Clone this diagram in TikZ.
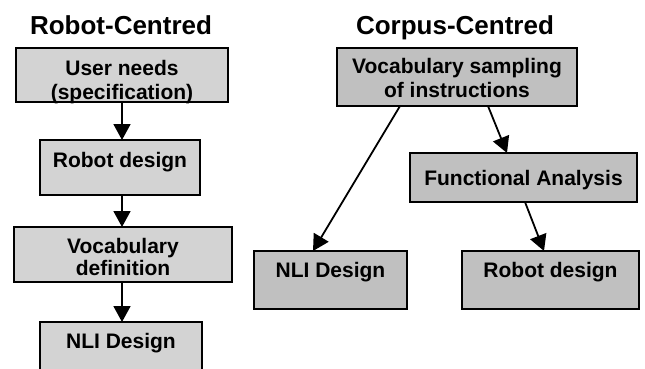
\documentclass[tikz,border=0pt]{standalone}
\usepackage{fontspec}
\setmainfont{Liberation Sans}
\usetikzlibrary{arrows.meta,calc}
\definecolor{lgrey}{HTML}{D3D3D3}
\definecolor{dgrey}{HTML}{C0C0C0}
\tikzset{
  boxL/.style={draw=black,line width=1.8pt,fill=lgrey,rectangle,anchor=north west,inner sep=0pt,outer sep=0pt},
  boxR/.style={draw=black,line width=1.8pt,fill=dgrey,rectangle,anchor=north west,inner sep=0pt,outer sep=0pt},
  lbl/.style={anchor=base,inner sep=0pt,font=\fontsize{21}{23}\selectfont\bfseries},
  ttl/.style={anchor=base,inner sep=0pt,font=\fontsize{26}{28}\selectfont\bfseries},
  arr/.style={line width=1.8pt,-{Triangle[width=17pt,length=16pt]}}
}
\begin{document}
\begin{tikzpicture}[x=1pt,y=-1pt]
\useasboundingbox (0,0) rectangle (645,369);
% titles
\node[ttl] (t1) at (121,35) {Robot-Centred};
\node[ttl] (t2) at (455,35) {Corpus-Centred};
% left column boxes
\node[boxL,minimum width=212pt,minimum height=54pt] (u1) at (16,48) {};
\node[boxL,minimum width=160pt,minimum height=55pt] (r1) at (40,140) {};
\node[boxL,minimum width=218pt,minimum height=55pt] (v1) at (14,227) {};
\node[boxL,minimum width=162pt,minimum height=62pt] (n1) at (40,322) {};
% right column boxes
\node[boxR,minimum width=240pt,minimum height=58pt] (vs) at (337,48) {};
\node[boxR,minimum width=227pt,minimum height=49pt] (fa) at (410,153) {};
\node[boxR,minimum width=153pt,minimum height=58pt] (nl) at (254,251) {};
\node[boxR,minimum width=177pt,minimum height=58pt] (rd) at (462,251) {};
% texts
\begin{scope}
\clip ([shift={(1pt,-1pt)}]u1.south west) rectangle ([shift={(-1pt,1pt)}]u1.north east);
\node[lbl] (u1a) at (122,75) {User needs};
\node[lbl] (u1b) at (122,99.5) {(specification)};
\end{scope}
\node[lbl] (r1a) at (120,167) {Robot design};
\node[lbl] (v1a) at (123,253) {Vocabulary};
\node[lbl] (v1b) at (123,275) {definition};
\node[lbl] (n1a) at (121,348) {NLI Design};
\node[lbl] (vsa) at (457,74) {Vocabulary sampling};
\node[lbl] (vsb) at (457,97) {of instructions};
\node[lbl] (faa) at (523.5,185) {Functional Analysis};
\node[lbl] (nla) at (330.5,277) {NLI Design};
\node[lbl] (rda) at (550.5,277) {Robot design};
% arrows left
\draw[arr] (u1.south -| 122,0) -- (r1.north -| 122,0);
\draw[arr] (r1.south -| 122,0) -- (v1.north -| 122,0);
\draw[arr] (v1.south -| 122,0) -- (n1.north -| 122,0);
% arrows right
\draw[arr] ([xshift=63pt]vs.south west) -- ([xshift=59pt]nl.north west);
\draw[arr] ([xshift=151pt]vs.south west) -- ([xshift=97pt]fa.north west);
\draw[arr] ([xshift=115pt]fa.south west) -- ([xshift=82pt]rd.north west);
\end{tikzpicture}
\end{document}
